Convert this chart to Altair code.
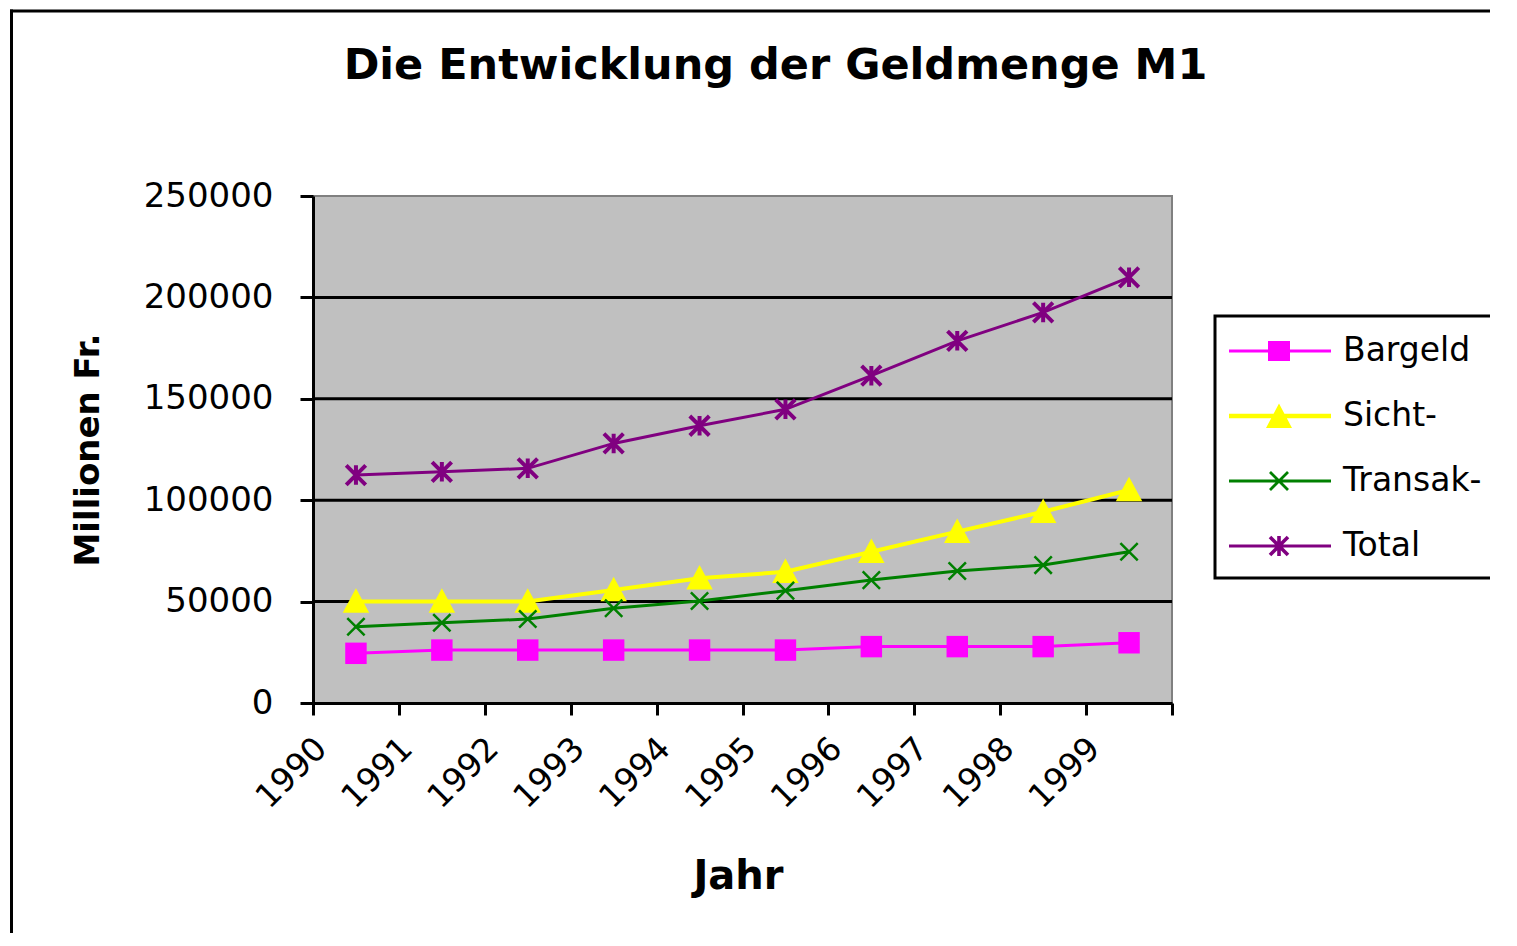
import math
import altair as alt
import pandas as pd

# ---------------- data ----------------
years = [1990, 1991, 1992, 1993, 1994, 1995, 1996, 1997, 1998, 1999]
series = ["Bargeld", "Sicht-", "Transak-", "Total"]
bargeld = [24500, 26100, 26100, 26100, 26100, 26100, 27800, 27800, 27800, 29700]
sicht = [50000, 50000, 50000, 55700, 61500, 64700, 74600, 84500, 94300, 105000]
transak = [37600, 39600, 41400, 46700, 50300, 55400, 60600, 65100, 68000, 74600]
total = [112400, 114000, 115700, 128000, 136700, 144800, 161400, 178600, 192600, 209900]
colors = ["#FF00FF", "#FFFF00", "#008000", "#800080"]
y_ticks = [0, 50000, 100000, 150000, 200000, 250000]
grid_vals = [50000, 100000, 150000, 200000]

rows = []
for s, vals in zip(series, [bargeld, sicht, transak, total]):
    for yr, v in zip(years, vals):
        rows.append({"Jahr": yr, "Wert": v, "Serie": s})
df = pd.DataFrame(rows)

x_ticks = [y - 0.5 for y in years] + [years[-1] + 0.5]

# ---------------- symbol helpers ----------------
def poly(pts):
    n = len(pts)
    area = sum(pts[i][0] * pts[(i + 1) % n][1] - pts[(i + 1) % n][0] * pts[i][1] for i in range(n))
    if area < 0:
        pts = pts[::-1]
    return "M" + "L".join(f"{x:.3f},{y:.3f}" for x, y in pts) + "Z"

def rect(x0, y0, x1, y1):
    return poly([(x0, y0), (x1, y0), (x1, y1), (x0, y1)])

def seg(x1, y1, x2, y2, t):
    dx, dy = x2 - x1, y2 - y1
    L = math.hypot(dx, dy)
    nx, ny = -dy / L * t, dx / L * t
    return poly([(x1 + nx, y1 + ny), (x2 + nx, y2 + ny), (x2 - nx, y2 - ny), (x1 - nx, y1 - ny)])

L0, L1, cx = -1.05, 4.05, 1.45
leg_paths = [
    rect(L0, -0.08, L1, 0.08) + rect(cx - 0.55, -0.5, cx + 0.55, 0.5),
    rect(L0, -0.11, L1, 0.11) + poly([(cx, -0.62), (cx + 0.65, 0.6), (cx - 0.65, 0.6)]),
    rect(L0, -0.08, L1, 0.08) + seg(cx - 0.45, -0.45, cx + 0.45, 0.45, 0.07)
    + seg(cx + 0.45, -0.45, cx - 0.45, 0.45, 0.07),
    rect(L0, -0.08, L1, 0.08) + seg(cx - 0.45, -0.45, cx + 0.45, 0.45, 0.09)
    + seg(cx + 0.45, -0.45, cx - 0.45, 0.45, 0.09) + seg(cx, -0.5, cx, 0.5, 0.09)
    + rect(cx - 0.22, -0.22, cx + 0.22, 0.22),
]

tri_path = "M0,-1L1,0.85L-1,0.85Z"
x_path = "M-1,-1L1,1M1,-1L-1,1"
ast_path = "M-1,-1L1,1M1,-1L-1,1M0,-1L0,1"

FONT = "DejaVu Sans"

cscale = alt.Scale(domain=series, range=colors)
yscale = alt.Scale(domain=[0, 250000], nice=False, zero=True)
xscale = alt.Scale(domain=[years[0] - 0.5, years[-1] + 0.5], nice=False, zero=False)

X = alt.X(
    "Jahr:Q",
    scale=xscale,
    axis=alt.Axis(
        values=x_ticks,
        labelExpr=f"datum.value < {years[-1]} ? format(datum.value + 0.5, 'd') : ''",
        labelAngle=-45,
        labelAlign="right",
        labelBaseline="middle",
        labelOffset=8,
        labelPadding=28,
        labelFlush=False,
        labelOverlap=False,
        labelBound=False,
        tickSize=12,
        grid=False,
        title="Jahr",
        titleFontSize=40,
        titleX=425,
        titleY=185,
        titleBaseline="alphabetic",
        titleAlign="center",
    ),
)
Y = alt.Y(
    "Wert:Q",
    scale=yscale,
    axis=alt.Axis(
        values=y_ticks,
        format="d",
        tickSize=13,
        labelPadding=27,
        labelFontSize=34,
        grid=False,
        title="Millionen Fr.",
        titleFontSize=34,
        titleX=-225,
        titleY=253.5,
        titleAngle=270,
        titleAlign="center",
        titleBaseline="middle",
    ),
)

base = alt.Chart(df).encode(x=X, y=Y)

one = pd.DataFrame({"k": [0]})
frame_top = alt.Chart(one).mark_rule(color="black", strokeWidth=3).encode(
    x=alt.value(-303), x2=alt.value(3000), y=alt.value(-185)
)
frame_left = alt.Chart(one).mark_rule(color="black", strokeWidth=3).encode(
    x=alt.value(-301.5), y=alt.value(-186.5), y2=alt.value(3000)
)

grid = alt.Chart(pd.DataFrame({"Wert": grid_vals})).mark_rule(
    color="black", strokeWidth=3
).encode(y=Y)

line_layers = [
    base.transform_filter(alt.datum.Serie == s).mark_line(
        strokeWidth=(4 if s == "Sicht-" else 3), color=c
    )
    for s, c in zip(series, colors)
]

pts_b = base.transform_filter(alt.datum.Serie == series[0]).mark_point(
    shape="square", filled=True, size=460, color=colors[0], opacity=1, strokeWidth=0
)
pts_s = base.transform_filter(alt.datum.Serie == series[1]).mark_point(
    shape=tri_path, filled=True, size=700, color=colors[1], opacity=1, strokeWidth=0
)
pts_t = base.transform_filter(alt.datum.Serie == series[2]).mark_point(
    shape=x_path, filled=False, size=300, color=colors[2], opacity=1, strokeWidth=2.5
)
pts_tot = base.transform_filter(alt.datum.Serie == series[3]).mark_point(
    shape=ast_path, filled=False, size=380, color=colors[3], opacity=1, strokeWidth=4
)

leg = alt.Legend(
    title=None,
    orient="none",
    legendX=902,
    legendY=120,
    symbolSize=1600,
    symbolStrokeWidth=0,
    symbolOpacity=1,
    labelOffset=73,
    rowPadding=28,
    labelFont=FONT,
    labelFontSize=33,
    labelColor="black",
    padding=15,
    strokeColor="black",
    fillColor="white",
)

legend_layer = base.mark_point(filled=True, opacity=0).encode(
    color=alt.Color("Serie:N", scale=cscale, legend=leg),
    shape=alt.Shape("Serie:N", scale=alt.Scale(domain=series, range=leg_paths), legend=leg),
)

chart = (
    alt.layer(frame_top, frame_left, grid, *line_layers, pts_b, pts_s, pts_t, pts_tot, legend_layer)
    .properties(
        width=859,
        height=507,
        title=alt.TitleParams(
            "Die Entwicklung der Geldmenge M1",
            font=FONT,
            fontSize=43,
            fontWeight="bold",
            color="black",
            anchor="middle",
            frame="group",
            dx=33,
            offset=-80,
        ),
        autosize=alt.AutoSizeParams(type="none"),
        padding={"left": 305, "top": 188, "right": 318, "bottom": 230},
        background="white",
    )
    .configure_view(fill="#C0C0C0", stroke="#808080", strokeWidth=2)
    .configure_axis(
        domainColor="black",
        domainWidth=3,
        tickColor="black",
        tickWidth=3,
        labelFont=FONT,
        labelFontSize=33,
        labelColor="black",
        titleFont=FONT,
        titleFontWeight="bold",
        titleColor="black",
    )
    .configure_legend(strokeWidth=3)
)

chart.save("out.html", embed_options={"renderer": "svg", "actions": False})
